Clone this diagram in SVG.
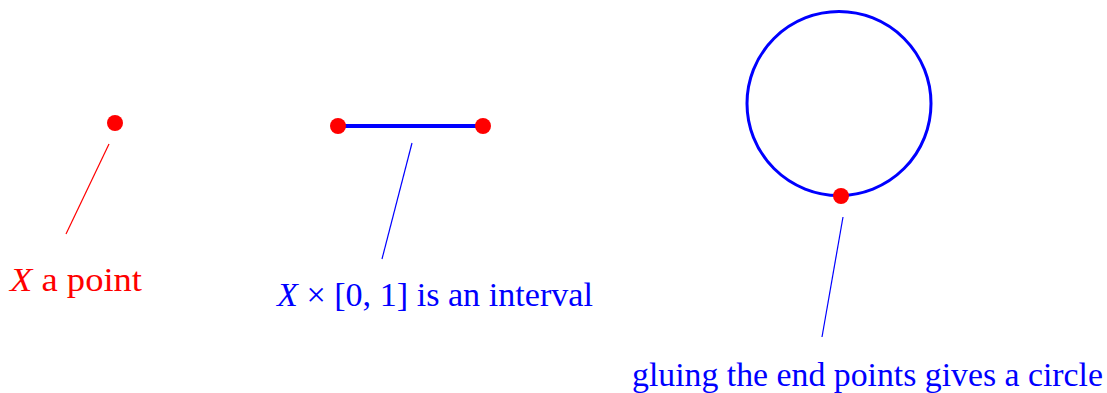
<svg xmlns="http://www.w3.org/2000/svg" width="1107" height="393" viewBox="0 0 1107 393">
<style>
.lbl{font-family:"Liberation Serif","Times New Roman",serif;font-size:33px}
.red{fill:#ff0000}
.blue{fill:#0000ff}
.dot{fill:#ff0000}
.lead{stroke-width:1.2;fill:none}
</style>
<rect width="1107" height="393" fill="#ffffff"/>
<g id="connectors">
<line class="lead" x1="109" y1="144" x2="66" y2="234" stroke="#ff0000"/>
<line class="lead" x1="412" y1="143" x2="382" y2="259" stroke="#0000ff"/>
<line class="lead" x1="843" y1="217" x2="822" y2="337" stroke="#0000ff"/>
</g>
<g id="point">
<circle class="dot" cx="115" cy="123" r="8"/>
<text class="lbl red" x="10" y="291" textLength="132" lengthAdjust="spacingAndGlyphs"><tspan font-style="italic">X</tspan> a point</text>
</g>
<g id="interval">
<line x1="338" y1="126" x2="483" y2="126" stroke="#0000ff" stroke-width="4"/>
<circle class="dot" cx="338" cy="126" r="8"/>
<circle class="dot" cx="483" cy="126" r="8"/>
<text class="lbl blue" x="277" y="306" textLength="316" lengthAdjust="spacingAndGlyphs"><tspan font-style="italic">X</tspan> × [0, 1] is an interval</text>
</g>
<g id="circle">
<circle cx="839" cy="103.5" r="92" fill="none" stroke="#0000ff" stroke-width="3"/>
<circle class="dot" cx="841" cy="196" r="8"/>
<text class="lbl blue" x="632" y="386" textLength="471" lengthAdjust="spacingAndGlyphs">gluing the end points gives a circle</text>
</g>
</svg>
